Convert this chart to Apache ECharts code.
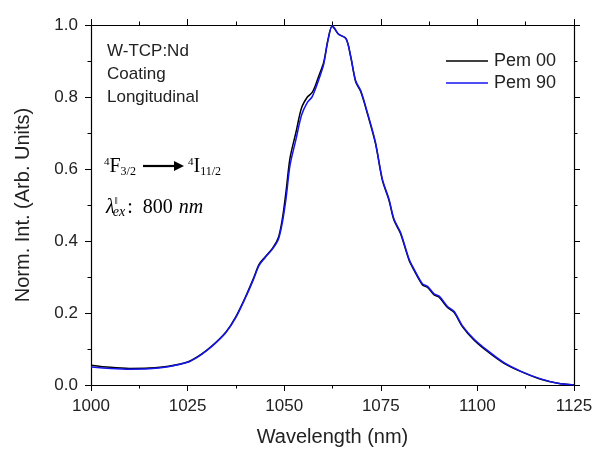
<!DOCTYPE html>
<html>
<head>
<meta charset="utf-8">
<script src="https://cdn.jsdelivr.net/npm/echarts@6/dist/echarts.min.js"></script>
<style>
  html, body { margin: 0; padding: 0; background: #fff; }
  #chart { width: 597px; height: 449px; }
</style>
</head>
<body>
<div id="chart"></div>
<script>
// wavelength (nm) sample points
var wavelength = [1000, 1005, 1010, 1015, 1020, 1025, 1027.5, 1030, 1032.5, 1035, 1037.5, 1040, 1042, 1043.5,
  1045, 1047, 1048.5, 1049.5, 1050.5, 1051.5, 1053, 1054.5, 1056, 1057.2, 1058, 1059, 1060.2, 1061.3, 1062.4,
  1063, 1064, 1066, 1067.2, 1068.5, 1069.8, 1071.5, 1073.6, 1075.4, 1077.1, 1078.4, 1080.1, 1082.3, 1083.6,
  1085.8, 1087.1, 1088.8, 1090.1, 1092.2, 1094, 1096.1, 1099.1, 1102.6, 1106.9, 1111.3, 1116.4, 1120.8, 1125];

var pem00 = [0.055, 0.049, 0.046, 0.047, 0.052, 0.064, 0.078, 0.097, 0.120, 0.148, 0.190, 0.245, 0.295, 0.335,
  0.355, 0.380, 0.410, 0.460, 0.540, 0.630, 0.700, 0.770, 0.800, 0.812, 0.830, 0.860, 0.895, 0.958, 0.997,
  0.990, 0.975, 0.962, 0.912, 0.842, 0.815, 0.755, 0.672, 0.569, 0.514, 0.458, 0.421, 0.347, 0.319,
  0.278, 0.271, 0.250, 0.244, 0.216, 0.201, 0.162, 0.125, 0.093, 0.060, 0.037, 0.016, 0.005, 0.000];

var pem90 = [0.050, 0.046, 0.044, 0.045, 0.051, 0.063, 0.077, 0.096, 0.119, 0.147, 0.188, 0.243, 0.292, 0.332,
  0.353, 0.378, 0.405, 0.450, 0.520, 0.610, 0.680, 0.750, 0.785, 0.800, 0.820, 0.850, 0.890, 0.955, 0.997,
  0.992, 0.975, 0.962, 0.914, 0.845, 0.818, 0.758, 0.675, 0.572, 0.517, 0.461, 0.424, 0.350, 0.322,
  0.281, 0.274, 0.253, 0.247, 0.219, 0.204, 0.165, 0.128, 0.096, 0.062, 0.038, 0.017, 0.005, 0.000];

var seriesNames = ['Pem 00', 'Pem 90'];

function pairs(ys) {
  return wavelength.map(function (x, i) { return [x, ys[i]]; });
}

var sans = 'Arial, "Liberation Sans", sans-serif';
var serif = '"Times New Roman", "Liberation Serif", serif';

var chart = echarts.init(document.getElementById('chart'));

var tickCommon = { show: true, inside: false, length: 6, lineStyle: { color: '#000', width: 1 } };
var minorCommon = { show: true, splitNumber: 2, length: 3.5, lineStyle: { color: '#000', width: 1 } };
var lineCommon = { show: true, onZero: false, lineStyle: { color: '#000', width: 1.2 } };

var option = {
  animation: false,
  backgroundColor: '#fff',
  grid: { left: 91, right: 23, top: 25, bottom: 64, outerBoundsMode: 'none' },
  legend: {
    data: seriesNames,
    orient: 'vertical',
    right: 36,
    top: 47,
    icon: 'rect',
    itemWidth: 42,
    itemHeight: 1.5,
    itemGap: 4,
    textStyle: { fontFamily: sans, fontSize: 18, color: '#222', padding: [0, 0, 0, 1] }
  },
  xAxis: [{
    type: 'value', min: 1000, max: 1125, interval: 25,
    name: 'Wavelength (nm)', nameLocation: 'middle', nameGap: 42,
    nameTextStyle: { fontFamily: sans, fontSize: 20, color: '#222' },
    axisLine: lineCommon, axisTick: tickCommon, minorTick: minorCommon,
    splitLine: { show: false },
    axisLabel: {
      fontFamily: sans, fontSize: 17, color: '#222', margin: 13,
      formatter: function (v) { return String(v); }
    }
  }, {
    type: 'value', position: 'top', min: 1000, max: 1125, interval: 25,
    axisLine: lineCommon, axisTick: tickCommon, minorTick: minorCommon,
    splitLine: { show: false }, axisLabel: { show: false }
  }],
  yAxis: [{
    type: 'value', min: 0, max: 1, interval: 0.2,
    name: 'Norm. Int. (Arb. Units)', nameLocation: 'middle', nameGap: 58,
    nameTextStyle: { fontFamily: sans, fontSize: 20, color: '#222' },
    axisLine: lineCommon, axisTick: tickCommon, minorTick: minorCommon,
    splitLine: { show: false },
    axisLabel: {
      fontFamily: sans, fontSize: 17, color: '#222', margin: 13,
      formatter: function (v) { return v.toFixed(1); }
    }
  }, {
    type: 'value', position: 'right', min: 0, max: 1, interval: 0.2,
    axisLine: lineCommon, axisTick: tickCommon, minorTick: minorCommon,
    splitLine: { show: false }, axisLabel: { show: false }
  }],
  series: [{
    name: seriesNames[0], type: 'line', symbol: 'none', smooth: 0.3,
    data: pairs(pem00),
    lineStyle: { color: '#000', width: 1.5 }, itemStyle: { color: '#000' }
  }, {
    name: seriesNames[1], type: 'line', symbol: 'none', smooth: 0.3,
    data: pairs(pem90),
    lineStyle: { color: '#1515f0', width: 1.5 }, itemStyle: { color: '#1515f0' }
  }],
  graphic: [
    { type: 'text', left: 107, top: 40, style: { text: 'W-TCP:Nd\nCoating\nLongitudinal', font: '17px ' + sans, fill: '#222', lineHeight: 23 } },
    {
      type: 'text', left: 104, top: 157,
      style: {
        text: '{s|4}{b|F}{d|3/2}',
        rich: {
          s: { fontFamily: serif, fontSize: 11, padding: [0, 0, 9, 0], fill: '#000' },
          b: { fontFamily: serif, fontSize: 20, fill: '#000' },
          d: { fontFamily: serif, fontSize: 12, padding: [10, 0, 0, 0], fill: '#000' }
        }
      }
    },
    { type: 'line', shape: { x1: 143, y1: 166, x2: 175, y2: 166 }, style: { stroke: '#000', lineWidth: 2.2 } },
    { type: 'polygon', shape: { points: [[174, 161], [184, 166], [174, 171]] }, style: { fill: '#000' } },
    {
      type: 'text', left: 188, top: 157,
      style: {
        text: '{s|4}{b|I}{d|11/2}',
        rich: {
          s: { fontFamily: serif, fontSize: 11, padding: [0, 0, 9, 0], fill: '#000' },
          b: { fontFamily: serif, fontSize: 20, fill: '#000' },
          d: { fontFamily: serif, fontSize: 12, padding: [10, 0, 0, 0], fill: '#000' }
        }
      }
    },
    {
      type: 'text', left: 106, top: 196,
      style: {
        text: '{l|λ}{p|ǁ}{e|ex}{n|:  800}{i|nm}',
        rich: {
          l: { fontFamily: serif, fontStyle: 'italic', fontSize: 20, fill: '#000' },
          p: { fontFamily: serif, fontSize: 11, padding: [0, 0, 12, 0], fill: '#000' },
          e: { fontFamily: serif, fontStyle: 'italic', fontSize: 14, padding: [10, 0, 0, -5], fill: '#000' },
          n: { fontFamily: serif, fontSize: 20, padding: [0, 0, 0, 2], fill: '#000' },
          i: { fontFamily: serif, fontStyle: 'italic', fontSize: 20, padding: [0, 0, 0, 6], fill: '#000' }
        }
      }
    }
  ]
};

chart.setOption(option);
</script>
</body>
</html>
